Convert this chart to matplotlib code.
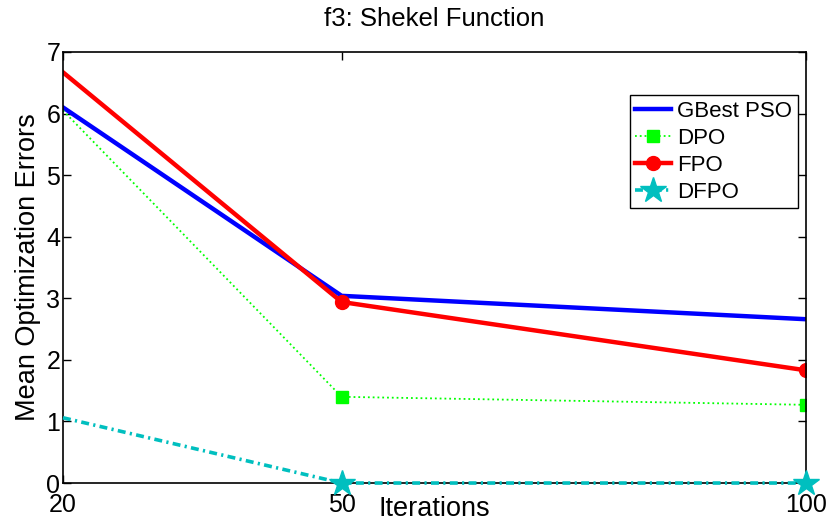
import matplotlib.pyplot as plt

plt.rcParams['font.family'] = ['Liberation Sans', 'DejaVu Sans']

iterations = [20, 50, 100]
gbest_pso = [6.10, 3.04, 2.66]
dpo = [6.05, 1.40, 1.27]
fpo = [6.67, 2.94, 1.83]
dfpo = [1.06, 0.0, 0.0]

fig = plt.figure(figsize=(8.33, 5.24), dpi=100)
ax = fig.add_axes([0.0756, 0.0782, 0.8920, 0.8226])

ax.plot(iterations, gbest_pso, color='#0000ff', lw=3.2, label='GBest PSO')
ax.plot(iterations, dpo, color='#00ff00', lw=1.3, ls=':', marker='s', ms=9,
        markevery=[1, 2], label='DPO')
ax.plot(iterations, fpo, color='#ff0000', lw=3.2, marker='o', ms=10,
        markevery=[1, 2], label='FPO')
ax.plot(iterations, dfpo, color='#00bfbf', lw=2.6, dashes=[2.2, 1.2, 0.6, 1.2],
        marker='*', ms=19, markevery=[1, 2], label='DFPO', clip_on=False,
        zorder=5)

ax.set_xlim(20, 100)
ax.set_ylim(0, 7)
ax.set_xticks(iterations)
ax.set_yticks(range(8))
ax.tick_params(direction='in', labelsize=18, length=6, width=1,
               top=True, right=True)
ax.tick_params(axis='x', pad=7)
ax.tick_params(axis='y', pad=2)
for s in ax.spines.values():
    s.set_linewidth(1.2)

ax.set_title('f3: Shekel Function', fontsize=18.5, pad=19)
ax.set_xlabel('Iterations', fontsize=19.5)
ax.xaxis.set_label_coords(0.5, -0.03)
ax.set_ylabel('Mean Optimization Errors', fontsize=19.5)
ax.yaxis.set_label_coords(-0.03, 0.5)

leg = ax.legend(loc='upper right', bbox_to_anchor=(0.989, 0.9), fontsize=16,
                fancybox=False, framealpha=1, edgecolor='black',
                handlelength=1.6, borderpad=0.25, labelspacing=0.27,
                handletextpad=0.3, borderaxespad=0)
leg.get_frame().set_linewidth(1.0)

fig.savefig('out.png', dpi=100)
